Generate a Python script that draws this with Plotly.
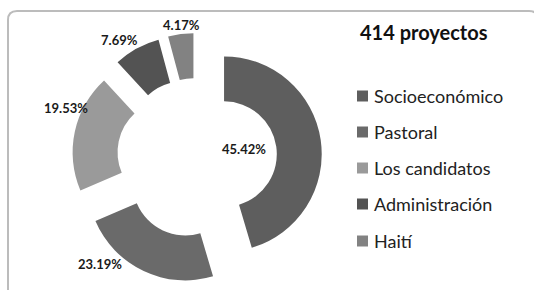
import plotly.graph_objects as go

categories = ["Socioeconómico", "Pastoral", "Los candidatos", "Administración", "Haití"]
values = [45.42, 23.19, 19.53, 7.69, 4.17]
title_text = "414 proyectos"

colors = ["#5e5e5e", "#6a6a6a", "#9a9a9a", "#535353", "#828282"]
# label centre positions in pixels (x, y from top)
label_pos = [(244, 149), (100, 264), (66, 108), (119, 40), (181, 25)]
legend_y = [96, 132, 168, 204, 241]

W, H = 534, 290
FONT = "Lato, 'Open Sans', sans-serif"

def px(x):
    return x / W

def py(y):
    return 1 - y / H

cx, cy, half = 197, 158, 125
fig = go.Figure(go.Pie(
    labels=categories,
    values=values,
    sort=False,
    direction="clockwise",
    rotation=0,
    hole=0.54,
    pull=[0.28] * len(values),
    marker=dict(colors=colors, line=dict(width=0)),
    textinfo="none",
    hoverinfo="label+percent",
    showlegend=False,
    domain=dict(x=[px(cx - half), px(cx + half)], y=[py(cy + half), py(cy - half)]),
))

annotations = []
for v, (x, y) in zip(values, label_pos):
    annotations.append(dict(x=px(x), y=py(y), xref="paper", yref="paper",
                            text=f"<b>{v:.2f}%</b>", showarrow=False,
                            xanchor="center", yanchor="middle",
                            font=dict(family=FONT, size=13, color="#1a1a1a")))
annotations.append(dict(x=px(424), y=py(32), xref="paper", yref="paper",
                        text=f"<b>{title_text}</b>", showarrow=False,
                        xanchor="center", yanchor="middle",
                        font=dict(family=FONT, size=20, color="#111111")))

shapes = []
for name, col, y in zip(categories, colors, legend_y):
    shapes.append(dict(type="rect", xref="paper", yref="paper",
                       x0=px(357), x1=px(368), y0=py(y + 5.5), y1=py(y - 5.5),
                       fillcolor=col, line=dict(width=0)))
    annotations.append(dict(x=px(372), y=py(y), xref="paper", yref="paper",
                            text=name, showarrow=False,
                            xanchor="left", yanchor="middle",
                            font=dict(family=FONT, size=18, color="#222222")))

# rounded frame
x0, y0, x1, y1, r = 8, 11, 538, 294, 9
path = (f"M {px(x0)},{py(y1)} L {px(x0)},{py(y0 + r)} "
        f"Q {px(x0)},{py(y0)} {px(x0 + r)},{py(y0)} "
        f"L {px(x1 - r)},{py(y0)} "
        f"Q {px(x1)},{py(y0)} {px(x1)},{py(y0 + r)} "
        f"L {px(x1)},{py(y1)}")
shapes.append(dict(type="path", xref="paper", yref="paper", path=path,
                   line=dict(color="#bcbcbc", width=2)))

fig.update_layout(
    width=W, height=H,
    margin=dict(l=0, r=0, t=0, b=0),
    paper_bgcolor="white",
    plot_bgcolor="white",
    annotations=annotations,
    shapes=shapes,
)

fig.write_html("out.html",
               config={"displayModeBar": False},
               post_script="document.body.style.margin='0';document.body.style.overflow='hidden';")
